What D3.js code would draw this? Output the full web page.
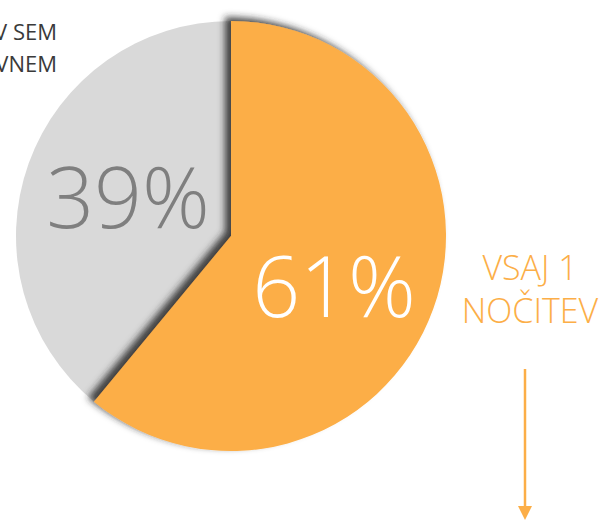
<!DOCTYPE html>
<html>
<head>
<meta charset="utf-8">
<script src="https://cdn.jsdelivr.net/npm/d3@7"></script>
<style>
  body { margin: 0; background: #fff; }
  svg { display: block; font-family: "Open Sans", "Segoe UI", sans-serif; }
</style>
</head>
<body>
<svg id="chart"></svg>
<script>
// data
const categories = ["VSAJ 1 NOČITEV", "V SEM ... VNEM"];
const values = [61, 39];
const colors = ["#fcae47", "#d9d9d9"];
const labelColors = ["#ffffff", "#7f7f7f"];

const width = 602, height = 521;
const cx = 231, cy = 236, radius = 215;

const svg = d3.select("#chart")
    .attr("width", width)
    .attr("height", height);

// drop shadow for the highlighted slice
const defs = svg.append("defs");
const shadow = defs.append("filter")
    .attr("id", "shadow")
    .attr("x", "-20%").attr("y", "-20%")
    .attr("width", "140%").attr("height", "140%");
shadow.append("feDropShadow")
    .attr("dx", -6)
    .attr("dy", -4)
    .attr("stdDeviation", 3.5)
    .attr("flood-color", "#262626")
    .attr("flood-opacity", 0.85);

const pie = d3.pie().sort(null).value(d => d);
const arcs = pie(values);
const arc = d3.arc().innerRadius(0).outerRadius(radius);

const g = svg.append("g")
    .attr("transform", `translate(${cx},${cy})`);

// grey slice first, orange on top with its shadow
g.append("path")
    .attr("d", arc(arcs[1]))
    .attr("fill", colors[1]);

g.append("path")
    .attr("d", arc(arcs[0]))
    .attr("fill", colors[0])
    .attr("filter", "url(#shadow)");

// percentage labels
const labelPos = [[103, 81], [-103, -8]];
arcs.forEach((a, i) => {
  g.append("text")
      .attr("x", labelPos[i][0])
      .attr("y", labelPos[i][1])
      .attr("text-anchor", "middle")
      .attr("fill", labelColors[i])
      .attr("font-size", 84)
      .attr("font-weight", 300)
      .text(`${values[i]}%`);
});

// category label on the right
const rightLabel = svg.append("text")
    .attr("text-anchor", "middle")
    .attr("fill", colors[0])
    .attr("font-size", 34)
    .attr("font-weight", 300);
rightLabel.append("tspan").attr("x", 530).attr("y", 280).text("VSAJ 1");
rightLabel.append("tspan").attr("x", 530).attr("y", 323).text("NOČITEV");

// arrow pointing down
svg.append("line")
    .attr("x1", 525).attr("y1", 369)
    .attr("x2", 525).attr("y2", 510)
    .attr("stroke", colors[0])
    .attr("stroke-width", 2.5);
svg.append("path")
    .attr("d", "M518,506 L532,506 L525,520 Z")
    .attr("fill", colors[0]);

// category label cut off at the left edge
const leftLabel = svg.append("text")
    .attr("text-anchor", "end")
    .attr("fill", "#3a3a3a")
    .attr("font-size", 22)
    .attr("font-weight", 400);
leftLabel.append("tspan").attr("x", 57).attr("y", 40).text("V SEM");
leftLabel.append("tspan").attr("x", 57).attr("y", 72).text("AVNEM");
</script>
</body>
</html>
